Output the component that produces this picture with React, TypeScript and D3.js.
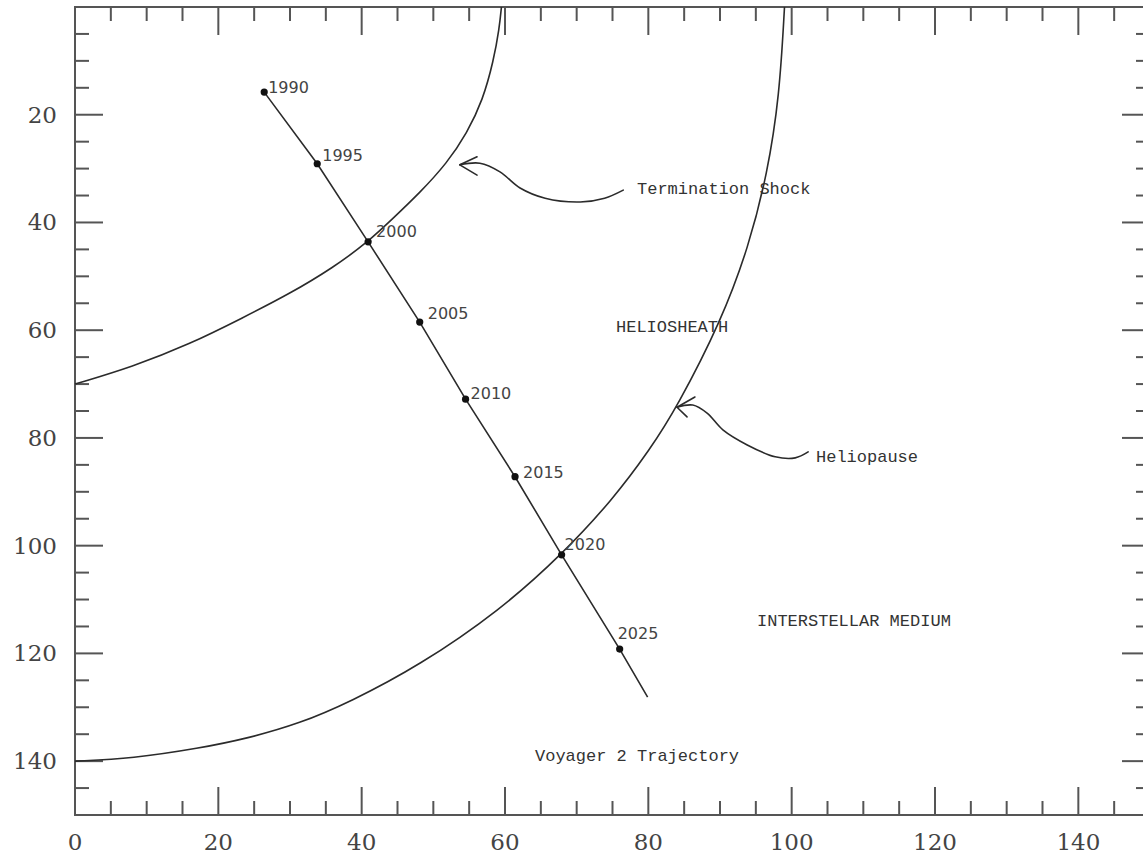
import React from 'react';
import * as d3 from 'd3';

// Voyager 2 trajectory, dots every 5 years (AU)
const years = [1990, 1995, 2000, 2005, 2010, 2015, 2020, 2025];
const trajX = [26.4, 33.8, 40.9, 48.1, 54.5, 61.4, 67.9, 76.0];
const trajY = [15.8, 29.1, 43.6, 58.5, 72.8, 87.2, 101.7, 119.2];
const trajEnd: [number, number] = [79.9, 128.1];

// Termination shock boundary
const tsX = [0, 8, 16, 23.4, 30, 36, 40.9, 44.4, 48.1, 51.9, 54.7, 56.9, 58.4, 59.2, 59.5];
const tsY = [70, 66.8, 62.6, 57.7, 53.2, 48.4, 43.6, 39.2, 34.5, 29, 23.4, 17.3, 10, 4, 0];

// Heliopause boundary
const hpX = [0, 8, 17.4, 24, 31.4, 38.4, 48, 59.3, 67.9, 75, 80.2, 84, 90.2, 94, 96.6, 98.3, 99];
const hpY = [140, 139.5, 137.6, 135.8, 133, 129, 122.3, 112, 101.7, 91.5, 82.2, 74.3, 58.2, 44.5, 31, 16.5, 0];

// hand-drawn pointer arrows (data units)
const tsArrow: [number, number][] = [[53.7, 29.3], [56.5, 29.0], [59.3, 30.6], [62.1, 33.6], [65.6, 35.5], [70.5, 36.2], [73.9, 35.5], [76.5, 34.0]];
const tsHead: [number, number][] = [[56.1, 27.8], [53.7, 29.3], [56.1, 31.2]];
const hpArrow: [number, number][] = [[84.0, 74.3], [86.2, 73.9], [88.2, 75.4], [90.4, 78.5], [93.8, 81.3], [97.7, 83.5], [100.5, 83.7], [102.3, 82.6]];
const hpHead: [number, number][] = [[86.5, 72.4], [84.0, 74.3], [85.4, 76.1]];

const xLabels = [0, 20, 40, 60, 80, 100, 120, 140];
const yLabels = [20, 40, 60, 80, 100, 120, 140];

// year label nudges in px [dx, dy]
const labelNudge = [[4, 1], [5, -3], [8, -5], [8, -3], [5, 0], [8, 1], [3, -5], [-2, -10]];

const W = 1143;
const H = 856;
const ink = '#2b2b2b';

export default function App() {
  const x = d3.scaleLinear().domain([0, 150]).range([75, 1150]);
  const y = d3.scaleLinear().domain([0, 150]).range([7, 815]);

  const boundary = d3.line<[number, number]>()
    .x(d => x(d[0]))
    .y(d => y(d[1]))
    .curve(d3.curveBasis);
  const smooth = d3.line<[number, number]>()
    .x(d => x(d[0]))
    .y(d => y(d[1]))
    .curve(d3.curveCatmullRom.alpha(0.5));
  const straight = d3.line<[number, number]>()
    .x(d => x(d[0]))
    .y(d => y(d[1]));

  const ts = tsX.map((v, i) => [v, tsY[i]] as [number, number]);
  const hp = hpX.map((v, i) => [v, hpY[i]] as [number, number]);
  const traj = trajX.map((v, i) => [v, trajY[i]] as [number, number]).concat([trajEnd]);

  const ticks = x.ticks(30).filter(t => t > 0 && t < 150);
  const isMajor = (t: number) => t % 20 === 0;

  const mono = '"Liberation Mono", "DejaVu Sans Mono", monospace';

  return (
    <div style={{ position: 'absolute', left: 0, top: 0 }}>
      <svg width={W} height={H} style={{ display: 'block', background: '#fff' }}>
        <rect x={0} y={0} width={W} height={H} fill="#fff" />

        {/* frame */}
        <rect x={x(0)} y={y(0)} width={x(150) - x(0)} height={y(150) - y(0)}
          fill="none" stroke="#555" strokeWidth={2} />

        {/* ticks */}
        {ticks.map(t => {
          const len = isMajor(t) ? 28 : 14;
          return (
            <g key={'t' + t} stroke="#555" strokeWidth={2}>
              <line x1={x(t)} x2={x(t)} y1={y(0)} y2={y(0) + len} />
              <line x1={x(t)} x2={x(t)} y1={y(150)} y2={y(150) - len} />
              <line x1={x(0)} x2={x(0) + len} y1={y(t)} y2={y(t)} />
              <line x1={x(150)} x2={x(150) - len} y1={y(t)} y2={y(t)} />
            </g>
          );
        })}

        {/* tick labels */}
        <g fontFamily='"DejaVu Serif", serif' fontSize={23} fill="#444">
          {xLabels.map(t => (
            <text key={'xl' + t} x={x(t)} y={850} textAnchor="middle">{t}</text>
          ))}
          {yLabels.map(t => (
            <text key={'yl' + t} x={57} y={y(t) + 8} textAnchor="end">{t}</text>
          ))}
        </g>

        {/* boundaries */}
        <path d={boundary(ts) || ''} fill="none" stroke={ink} strokeWidth={1.6} />
        <path d={boundary(hp) || ''} fill="none" stroke={ink} strokeWidth={1.6} />

        {/* trajectory */}
        <path d={straight(traj) || ''} fill="none" stroke={ink} strokeWidth={1.6} />
        {years.map((yr, i) => (
          <g key={yr}>
            <circle cx={x(trajX[i])} cy={y(trajY[i])} r={3.6} fill="#111" />
            <text x={x(trajX[i]) + labelNudge[i][0]} y={y(trajY[i]) + labelNudge[i][1]}
              fontFamily='"DejaVu Sans", sans-serif' fontSize={16} fill="#444">{yr}</text>
          </g>
        ))}

        {/* arrows */}
        <g fill="none" stroke={ink} strokeWidth={1.6} strokeLinecap="round" strokeLinejoin="round">
          <path d={smooth(tsArrow) || ''} />
          <path d={straight(tsHead) || ''} />
          <path d={smooth(hpArrow) || ''} />
          <path d={straight(hpHead) || ''} />
        </g>

        {/* annotations */}
        <g fontFamily={mono} fontSize={17} fill="#333">
          <text x={637} y={194}>Termination Shock</text>
          <text x={616} y={332}>HELIOSHEATH</text>
          <text x={816} y={462}>Heliopause</text>
          <text x={757} y={626}>INTERSTELLAR MEDIUM</text>
          <text x={535} y={761}>Voyager 2 Trajectory</text>
        </g>
      </svg>
    </div>
  );
}
